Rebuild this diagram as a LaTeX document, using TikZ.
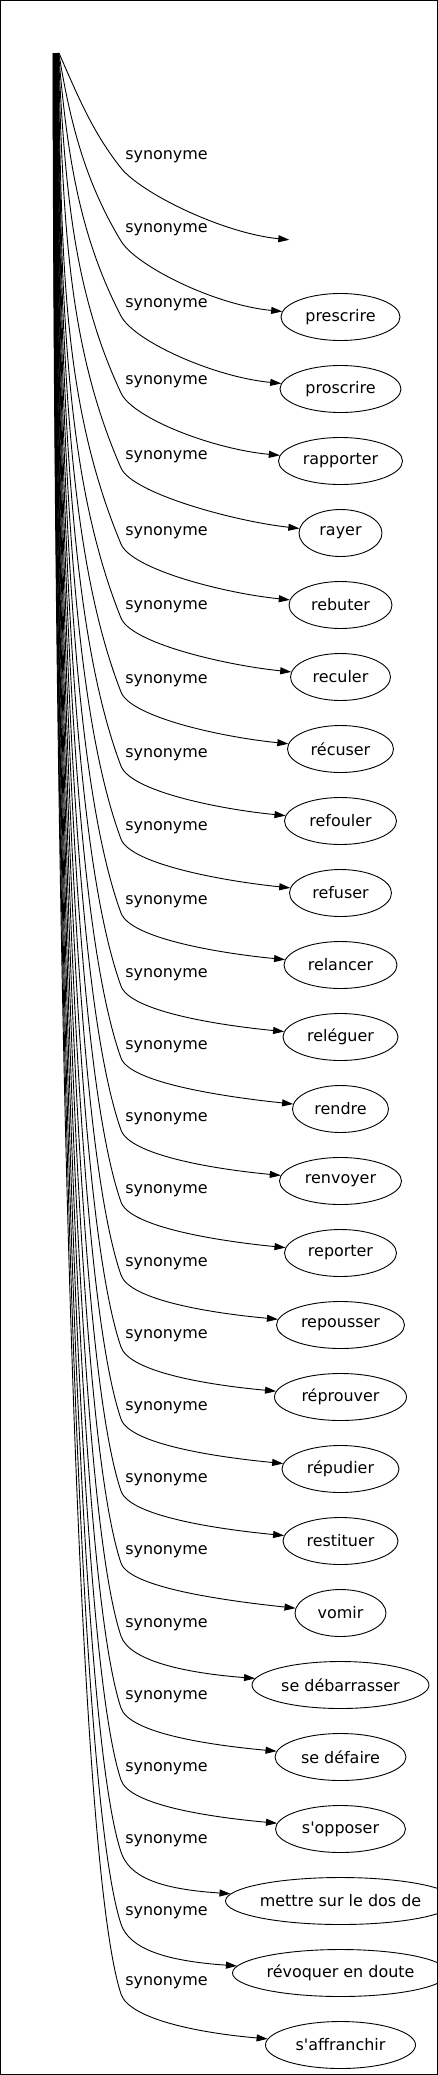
\documentclass[tikz,border=0pt]{standalone}
\usepackage{fontspec}
\setmainfont{DejaVu Sans}
\usetikzlibrary{arrows.meta,shapes.geometric,calc}
\tikzset{
  mot/.style={ellipse,draw,line width=0.9bp,inner sep=0pt,minimum height=47bp,font=\fontsize{16}{19}\selectfont},
  syn/.style={inner sep=0pt,font=\fontsize{16}{19}\selectfont},
  lien/.style={line width=0.9bp,-{Triangle[length=11bp,width=7bp]}}
}
\begin{document}
\begin{tikzpicture}[x=1bp,y=-1bp]
  \useasboundingbox (0,0) rectangle (438,2075);
  \draw[line width=1bp] (0.5,0.5) rectangle (437.5,2074.5);
  \coordinate (src) at (55,53);
  % un noeud par synonyme : texte / largeur / hauteur de l'etiquette
  \foreach \mot/\larg/\ly [count=\idx from 0] in {{}/104/157, prescrire/119/230, proscrire/121/305,
      rapporter/124/382, rayer/83/457, rebuter/103/533, reculer/100/607, récuser/106/681,
      refouler/112/755, refuser/102/828, relancer/113/902, reléguer/115/975, rendre/96/1047,
      renvoyer/122/1119, reporter/112/1191, repousser/128/1264, réprouver/132/1336,
      répudier/117/1408, restituer/115/1480, vomir/91/1552, se débarrasser/177/1625,
      se défaire/131/1697, s\textquotesingle opposer/130/1769, mettre sur le dos de/230/1841,
      révoquer en doute/216/1913, s\textquotesingle affranchir/150/1983}{
    \pgfmathsetmacro\ty{245+72*\idx}
    \pgfmathsetmacro\dx{4-0.24*\idx}
    \pgfmathsetmacro\dy{\ly+11-53}
    \pgfmathsetmacro\off{2300/\dy}
    \pgfmathsetmacro\kk{min(150,0.3*\dy)}
    \pgfmathsetmacro\pente{0.3+57/\dy}
    \ifnum\idx=0
      \node[mot,draw=none,minimum width=\larg bp] (n\idx) at (340.5,\ty) {};
    \else
      \node[mot,minimum width=\larg bp] (n\idx) at (340.5,\ty) {\mot};
    \fi
    \node[syn] (l\idx) at (166.5,\ly) {synonyme};
    \coordinate (k\idx) at (121,\ly+11);
    \draw[lien] ($(src)+(\dx,0)$) .. controls +(\off,0.4*\dy) and +(-\pente*\kk,-\kk) .. (k\idx)
      .. controls +(25*\pente,25) and ($(n\idx.west)+(-66,-12)$) .. (n\idx);
  }
\end{tikzpicture}
\end{document}
